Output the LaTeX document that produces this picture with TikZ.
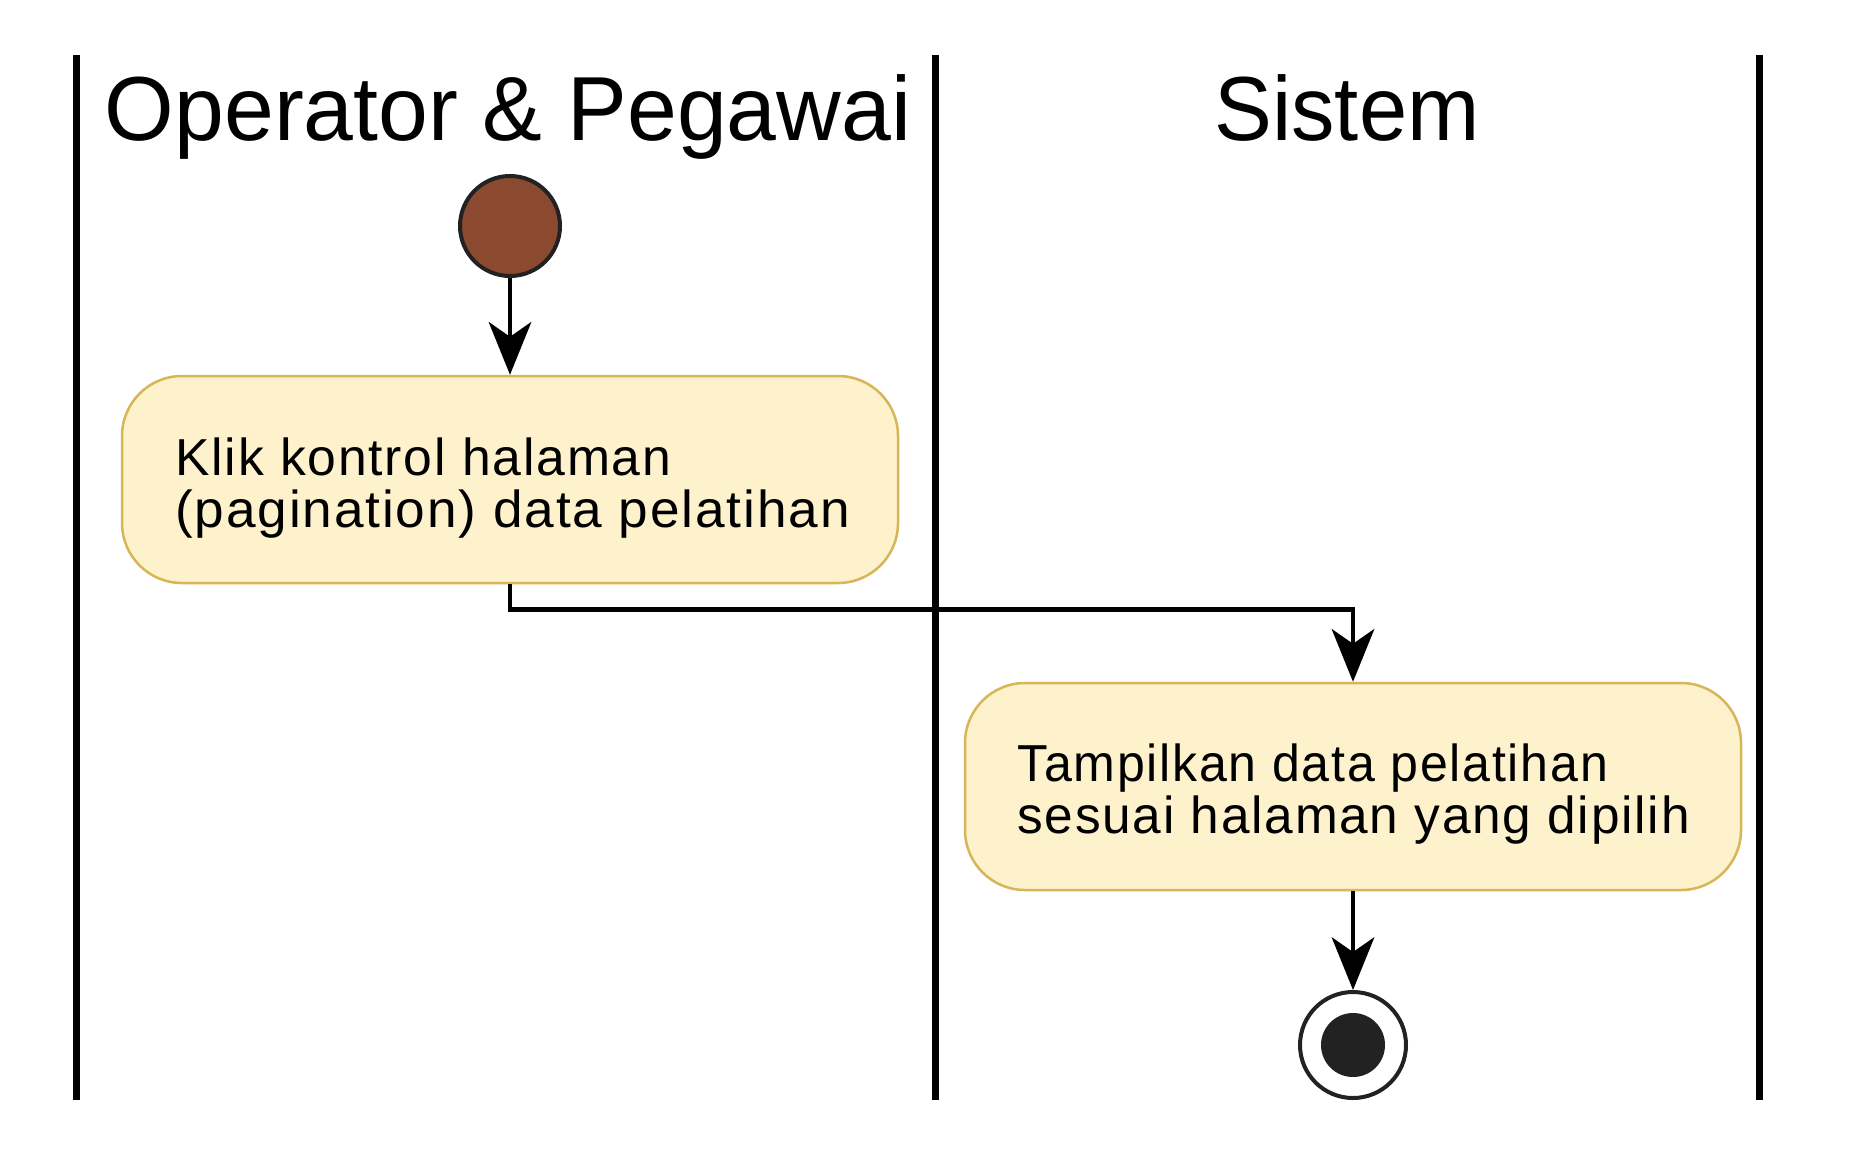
\documentclass[tikz,border=0pt]{standalone}
\usepackage{graphicx}
\usepackage{fontspec}
\setmainfont{Liberation Sans}
\newfontfamily\actfont[LetterSpace=3.5]{Liberation Sans}
\usetikzlibrary{arrows.meta}
\definecolor{boxfill}{HTML}{FEF2CC}
\definecolor{boxline}{HTML}{D6B656}
\definecolor{startfill}{HTML}{8B4A2F}
\definecolor{ringcol}{HTML}{222222}
\newcommand{\hsq}[2]{\scalebox{#1}[1]{#2}}
\tikzset{
  lane/.style={line width=7pt, black},
  title/.style={inner sep=0pt, anchor=base, font=\fontsize{91}{100}\selectfont},
  actbox/.style={draw=boxline, fill=boxfill, line width=2.5pt, rounded corners=60pt,
    minimum width=776pt, minimum height=207pt, inner sep=0pt},
  acttext/.style={inner sep=0pt, anchor=base west, font=\actfont\fontsize{52}{52}\selectfont},
  startnode/.style={circle, draw=ringcol, fill=startfill, line width=4pt, minimum size=100pt, inner sep=0pt},
  endnode/.style={circle, draw=ringcol, fill=white, line width=4pt, minimum size=106pt, inner sep=0pt,
    path picture={\fill[ringcol] (path picture bounding box.center) circle (32pt);}},
  flow/.style={line width=4.5pt, black, -{Stealth[length=53pt, width=43pt, inset=15pt, line width=0pt]}}
}
\begin{document}
\begin{tikzpicture}[x=1pt, y=-1pt]
\useasboundingbox[fill=white] (0,0) rectangle (1865,1160);
% swimlane separators
\draw[lane] (76,55) coordinate (l1t) -- (76,1100) coordinate (l1b);
\draw[lane] (935,55) coordinate (l2t) -- (935,1100) coordinate (l2b);
\draw[lane] (1759,55) coordinate (l3t) -- (1759,1100) coordinate (l3b);
% lane titles
\node[title] (tOp) at (508,140) {\hsq{0.984}{Operator \& Pegawai}};
\node[title] (tSis) at (1347,140) {\hsq{0.953}{Sistem}};
% nodes
\node[startnode] (start) at (510,226) {};
\node[actbox] (b1) at (510,479.5) {};
\node[acttext] (t1) at (175,475) {\vtop{\hbox{\hsq{0.994}{Klik kontrol halaman}}\hbox{\hsq{1.023}{(pagination) data pelatihan}}}};
\node[actbox] (b2) at (1353,786.5) {};
\node[acttext] (t2) at (1017,781) {\vtop{\hbox{\hsq{0.963}{Tampilkan data pelatihan}}\hbox{\hsq{0.988}{sesuai halaman yang dipilih}}}};
\node[endnode] (end) at (1353,1045) {};
% connectors
\draw[flow] (start) -- (b1);
\draw[flow] (b1.south) -- ++(0,25) -| (b2.north);
\draw[flow] (b2) -- (end);
\end{tikzpicture}
\end{document}
